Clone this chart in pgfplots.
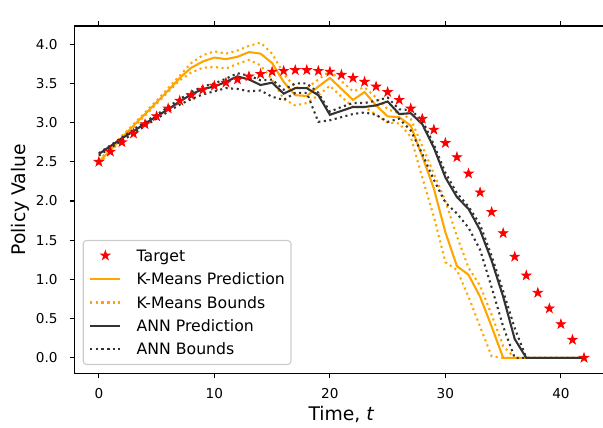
\documentclass[border=0pt]{standalone}
\usepackage{fontspec}
\setmainfont{DejaVu Sans}
\usepackage{pgfplots}
\pgfplotsset{compat=1.18}
\usepackage{pgfplotstable}

\definecolor{kmorange}{HTML}{FFA500}
\definecolor{anngray}{HTML}{333333}

% filled five-pointed star, like matplotlib's '*'
\pgfdeclareplotmark{fstar}{%
  \pgfpathmoveto{\pgfpointpolar{90}{\pgfplotmarksize}}%
  \pgfpathlineto{\pgfpointpolar{126}{0.382\pgfplotmarksize}}%
  \pgfpathlineto{\pgfpointpolar{162}{\pgfplotmarksize}}%
  \pgfpathlineto{\pgfpointpolar{198}{0.382\pgfplotmarksize}}%
  \pgfpathlineto{\pgfpointpolar{234}{\pgfplotmarksize}}%
  \pgfpathlineto{\pgfpointpolar{270}{0.382\pgfplotmarksize}}%
  \pgfpathlineto{\pgfpointpolar{306}{\pgfplotmarksize}}%
  \pgfpathlineto{\pgfpointpolar{342}{0.382\pgfplotmarksize}}%
  \pgfpathlineto{\pgfpointpolar{18}{\pgfplotmarksize}}%
  \pgfpathlineto{\pgfpointpolar{54}{0.382\pgfplotmarksize}}%
  \pgfpathclose
  \pgfusepathqfillstroke}

% policy values in units of 1e10
\pgfplotstableread{
t  target kmp  kml  kmu  annp annl annu
0  2.50   2.50 2.48 2.52 2.60 2.58 2.61
1  2.63   2.65 2.63 2.67 2.70 2.68 2.71
2  2.75   2.81 2.78 2.83 2.80 2.77 2.81
3  2.86   2.96 2.94 2.98 2.89 2.86 2.91
4  2.98   3.11 3.09 3.13 2.99 2.96 3.01
5  3.08   3.26 3.24 3.28 3.08 3.05 3.10
6  3.18   3.41 3.39 3.44 3.17 3.14 3.20
7  3.28   3.57 3.54 3.60 3.27 3.23 3.30
8  3.35   3.70 3.64 3.76 3.36 3.30 3.39
9  3.42   3.78 3.70 3.86 3.43 3.36 3.46
10 3.47   3.83 3.71 3.91 3.46 3.40 3.50
11 3.51   3.81 3.69 3.88 3.52 3.44 3.56
12 3.55   3.84 3.75 3.92 3.59 3.43 3.63
13 3.59   3.90 3.80 3.98 3.55 3.40 3.60
14 3.62   3.88 3.73 4.02 3.48 3.41 3.54
15 3.65   3.76 3.55 3.88 3.51 3.33 3.55
16 3.66   3.52 3.30 3.62 3.37 3.29 3.42
17 3.67   3.35 3.22 3.45 3.44 3.38 3.50
18 3.67   3.34 3.25 3.44 3.44 3.38 3.50
19 3.66   3.46 3.35 3.55 3.35 3.01 3.38
20 3.65   3.57 3.47 3.66 3.10 3.03 3.14
21 3.61   3.43 3.33 3.53 3.15 3.07 3.20
22 3.57   3.29 3.20 3.40 3.20 3.11 3.25
23 3.52   3.39 3.20 3.45 3.20 3.13 3.25
24 3.46   3.22 3.10 3.32 3.22 3.10 3.28
25 3.39   3.08 3.00 3.17 3.27 3.01 3.32
26 3.29   3.07 2.99 3.12 3.11 3.05 3.17
27 3.18   2.96 2.82 3.05 3.12 2.90 3.16
28 3.05   2.57 2.30 2.70 2.98 2.60 3.03
29 2.91   2.16 1.80 2.35 2.68 2.27 2.72
30 2.74   1.60 1.22 2.00 2.30 1.98 2.36
31 2.56   1.17 1.12 1.55 2.05 1.84 2.10
32 2.35   1.06 0.78 1.15 1.90 1.66 1.93
33 2.11   0.78 0.40 0.92 1.63 1.38 1.70
34 1.86   0.40 0.02 0.55 1.24 0.90 1.30
35 1.59   0.00 0.00 0.15 0.78 0.40 0.85
36 1.29   0.00 0.00 0.00 0.24 0.00 0.38
37 1.05   0.00 0.00 0.00 0.00 0.00 0.00
38 0.83   0.00 0.00 0.00 0.00 0.00 0.00
39 0.63   0.00 0.00 0.00 0.00 0.00 0.00
40 0.43   0.00 0.00 0.00 0.00 0.00 0.00
41 0.23   0.00 0.00 0.00 0.00 0.00 0.00
42 0.00   0.00 0.00 0.00 0.00 0.00 0.00
}\policy

\begin{document}
\begin{tikzpicture}
\begin{axis}[
    scale only axis,
    width=384.2pt, height=250.2pt,
    xmin=-2.1, xmax=44.1,
    ymin=-0.2, ymax=4.233,
    xtick={0,10,20,30,40},
    ytick={0,0.5,1,1.5,2,2.5,3,3.5,4},
    /pgf/number format/assume math mode=true,
    yticklabel style={/pgf/number format/fixed, /pgf/number format/fixed zerofill,
                      /pgf/number format/precision=1},
    tick align=outside,
    major tick length=3.5pt,
    tick style={black, line width=0.8pt},
    axis line style={black, line width=0.8pt},
    tick label style={font=\fontsize{9.8}{11.8}\selectfont, inner sep=0pt},
    xticklabel style={anchor=north, yshift=-6.9pt},
    yticklabel style={anchor=east, xshift=-8.6pt},
    xlabel={Time, \textit{t}},
    ylabel={Policy Value},
    label style={font=\fontsize{13.5}{16}\selectfont, inner sep=0pt},
    xlabel style={at={(axis description cs:0.5,0)}, anchor=base, yshift=-33.5pt},
    ylabel style={at={(axis description cs:0,0.5)}, anchor=base, yshift=35.7pt},
    legend cell align=left,
    legend style={
        at={(0,0)}, anchor=south west, xshift=5.8pt, yshift=6.1pt,
        font=\fontsize{11.3}{13.5}\selectfont,
        draw=black!20, line width=0.8pt, rounded corners=2.5pt,
        fill=white, inner xsep=4.4pt, inner ysep=5.85pt,
        row sep=6.9pt, column sep=11pt,
        nodes={inner sep=0pt, text height=9pt, text depth=1pt},
    },
    legend image code/.code={%
        \draw[mark repeat=2, mark phase=2, #1]
            plot coordinates {(0pt,0pt) (10.8pt,0pt) (21.6pt,0pt)};},
]
\addplot[only marks, mark=fstar, mark size=3.4pt, red, fill=red, line width=0.6pt]
    table[x=t, y=target] {\policy};
\addlegendentry{Target}
\addplot[kmorange, line width=1.5pt] table[x=t, y=kmp] {\policy};
\addlegendentry{K-Means Prediction}
\addplot[kmorange, line width=1.5pt, dash pattern=on 1.5pt off 2.5pt] table[x=t, y=kml] {\policy};
\addlegendentry{K-Means Bounds}
\addplot[kmorange, line width=1.5pt, dash pattern=on 1.5pt off 2.5pt, forget plot] table[x=t, y=kmu] {\policy};
\addplot[anngray, line width=1.5pt] table[x=t, y=annp] {\policy};
\addlegendentry{ANN Prediction}
\addplot[anngray, line width=1.5pt, dash pattern=on 1.5pt off 2.5pt] table[x=t, y=annl] {\policy};
\addlegendentry{ANN Bounds}
\addplot[anngray, line width=1.5pt, dash pattern=on 1.5pt off 2.5pt, forget plot] table[x=t, y=annu] {\policy};
\node[anchor=base west, inner sep=0pt, font=\fontsize{9.8}{11.8}\selectfont]
    at (rel axis cs:0,1) [yshift=2.9pt] {1e10};
\end{axis}
\pgfresetboundingbox
\path[use as bounding box] (-53.7pt,-39.2pt) rectangle (380.4pt,268.9pt);
\end{tikzpicture}
\end{document}
